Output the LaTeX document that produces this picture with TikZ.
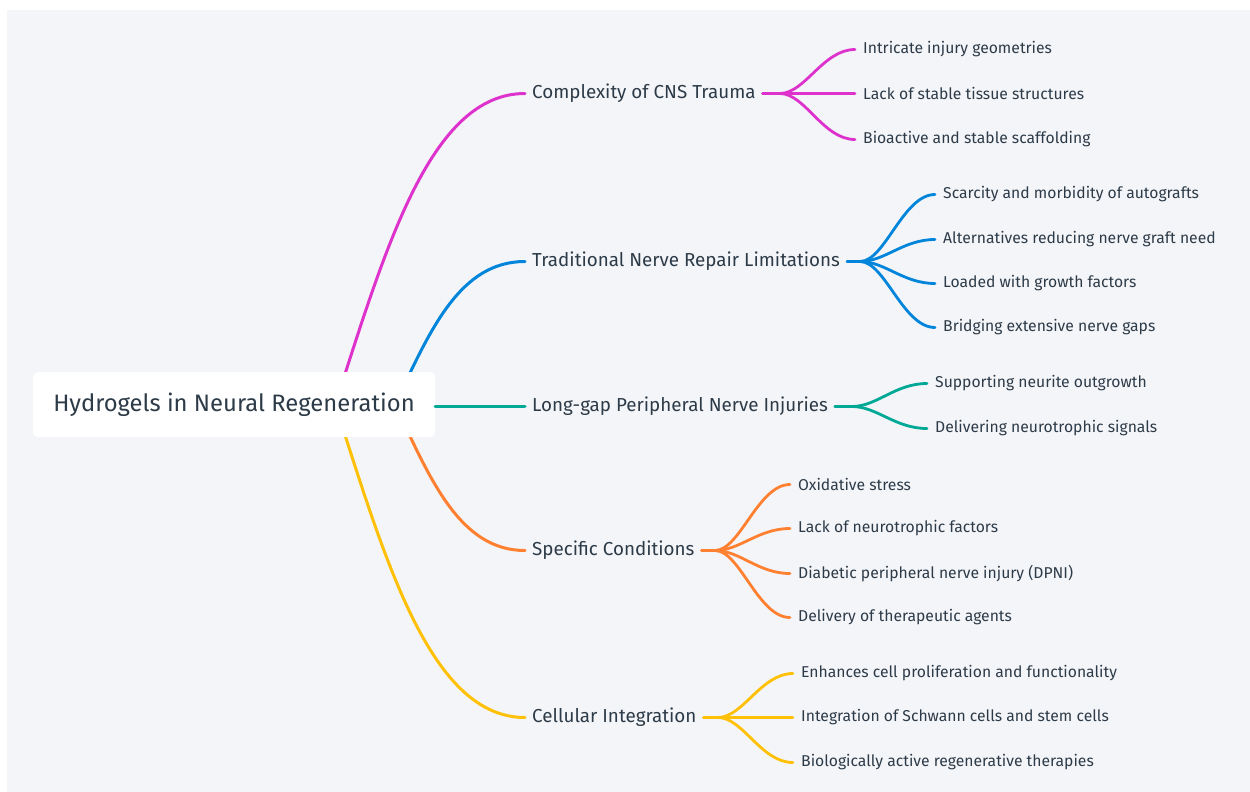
\documentclass[tikz,border=0pt]{standalone}
\usepackage{fontspec}
\setmainfont{Fira Sans}
\usetikzlibrary{backgrounds}
\definecolor{ink}{RGB}{45,59,72}
\definecolor{panel}{RGB}{244,245,249}
\definecolor{cmag}{RGB}{221,51,204}
\definecolor{cblue}{RGB}{0,133,218}
\definecolor{cteal}{RGB}{0,168,150}
\definecolor{corange}{RGB}{255,128,48}
\definecolor{cyellow}{RGB}{255,193,7}
\tikzset{
  rootbox/.style={fill=white, rounded corners=5pt, minimum width=402pt, minimum height=65pt, text=ink, font=\fontsize{23.8}{26}\selectfont},
  topic/.style={anchor=west, inner xsep=7pt, yshift=-1.5pt, text=ink, font=\fontsize{18.8}{21}\selectfont},
  leaf/.style={anchor=west, inner xsep=8pt, yshift=-1.5pt, text=ink, font=\fontsize{15.7}{18}\selectfont},
  limb/.style={draw=#1, line width=3pt, line cap=round},
  twig/.style={draw=#1, line width=2.8pt, line cap=round}
}

\begin{document}
\begin{tikzpicture}[x=1pt, y=-1pt]
\useasboundingbox (0,0) rectangle (1250,792);

\node[rootbox] (root) at (234,404.5) {Hydrogels in Neural Regeneration};

% main topics
\node[topic] (cns)  at (525,92)  {Complexity of CNS Trauma};
\node[topic] (trad) at (525,260) {Traditional Nerve Repair Limitations};
\node[topic] (gap)  at (525,405) {Long-gap Peripheral Nerve Injuries};
\node[topic] (cond) at (525,549) {Specific Conditions};
\node[topic] (cell) at (525,716) {Cellular Integration};

% leaves
\node[leaf] (cnsa) at (855,48)  {Intricate injury geometries};
\node[leaf] (cnsb) at (855,92)  {Lack of stable tissue structures};
\node[leaf] (cnsc) at (855,138) {Bioactive and stable scaffolding};

\node[leaf] (trada) at (935,193) {Scarcity and morbidity of autografts};
\node[leaf] (tradb) at (935,238) {Alternatives reducing nerve graft need};
\node[leaf] (tradc) at (935,282) {Loaded with growth factors};
\node[leaf] (tradd) at (935,326) {Bridging extensive nerve gaps};

\node[leaf] (gapa) at (927,382) {Supporting neurite outgrowth};
\node[leaf] (gapb) at (927,427) {Delivering neurotrophic signals};

\node[leaf] (conda) at (790,483) {Oxidative stress};
\node[leaf] (condb) at (790,527) {Lack of neurotrophic factors};
\node[leaf] (condc) at (790,572) {Diabetic peripheral nerve injury (DPNI)};
\node[leaf] (condd) at (790,616) {Delivery of therapeutic agents};

\node[leaf] (cella) at (793,672) {Enhances cell proliferation and functionality};
\node[leaf] (cellb) at (793,716) {Integration of Schwann cells and stem cells};
\node[leaf] (cellc) at (793,761) {Biologically active regenerative therapies};

% forks
\coordinate (cnsf)  at (780,93.5);
\coordinate (tradf) at (860,261.5);
\coordinate (gapf)  at (852,406.5);
\coordinate (condf) at (715,550.5);
\coordinate (cellf) at (718,717.5);

\begin{pgfonlayer}{background}
\fill[panel] (7,10) rectangle (1250,792);
\draw[limb=cmag] ([xshift=-100pt]root.east) .. controls +(50,-155) and +(-95,0) .. (cns.west);
\draw[limb=cblue] ([xshift=-40pt]root.east) .. controls +(35,-75) and +(-65,0) .. (trad.west);
\draw[limb=corange] ([xshift=-40pt]root.east) .. controls +(35,75) and +(-65,0) .. (cond.west);
\draw[limb=cyellow] ([xshift=-100pt]root.east) .. controls +(50,155) and +(-95,0) .. (cell.west);
\end{pgfonlayer}
\draw[limb=cteal] (root.east |- gap.west) -- (gap.west);

\foreach \c in {cnsa,cnsb,cnsc}
  \draw[twig=cmag] (cns.east) -- (cnsf) .. controls +(25,0) and +(-32,0) .. (\c.west);
\foreach \c in {trada,tradb,tradc,tradd}
  \draw[twig=cblue] (trad.east) -- (tradf) .. controls +(25,0) and +(-32,0) .. (\c.west);
\foreach \c in {gapa,gapb}
  \draw[twig=cteal] (gap.east) -- (gapf) .. controls +(25,0) and +(-32,0) .. (\c.west);
\foreach \c in {conda,condb,condc,condd}
  \draw[twig=corange] (cond.east) -- (condf) .. controls +(25,0) and +(-32,0) .. (\c.west);
\foreach \c in {cella,cellb,cellc}
  \draw[twig=cyellow] (cell.east) -- (cellf) .. controls +(25,0) and +(-32,0) .. (\c.west);
\end{tikzpicture}
\end{document}
